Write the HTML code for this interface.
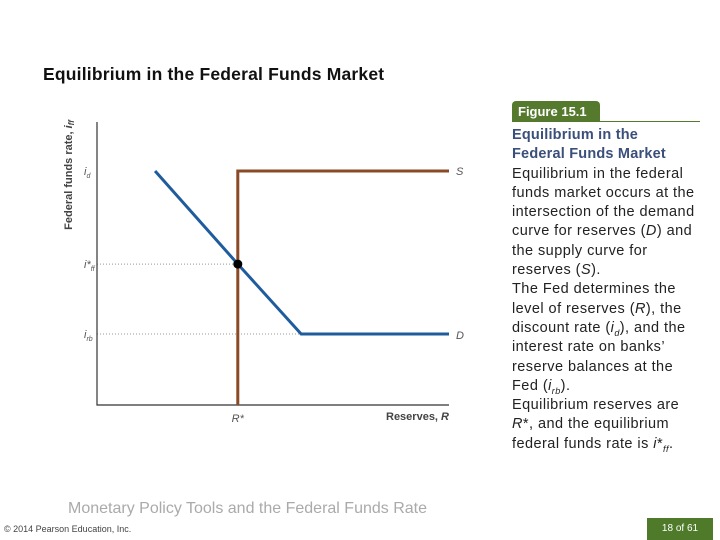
<!DOCTYPE html>
<html><head><meta charset="utf-8"><style>
body{margin:0;width:720px;height:540px;background:#fff;position:relative;overflow:hidden;font-family:"Liberation Sans",Arial,sans-serif}
.abs{position:absolute}
#side{left:512px;top:126px;font-size:14.5px;letter-spacing:0.45px;line-height:19.3px;color:#222;white-space:nowrap}
#side .h{color:#3a4f7a;font-weight:bold;letter-spacing:0.2px}
.sb{font-size:9px;position:relative;top:4px;line-height:0}
</style></head><body>
<div class="abs" style="left:43px;top:64px;font-size:17.5px;font-weight:bold;color:#111;letter-spacing:0.2px">Equilibrium in the Federal Funds Market</div>
<div class="abs" style="left:512px;top:101px;width:88px;height:20px;background:#557a2e;border-radius:4px 4px 0 0;color:#fff;font-size:13px;font-weight:bold;line-height:21px;padding-left:6px;box-sizing:border-box">Figure 15.1</div>
<div class="abs" style="left:512px;top:121px;width:188px;height:1px;background:#557a2e"></div>
<div id="side" class="abs">
<div class="h">Equilibrium in the<br>Federal Funds Market</div>
Equilibrium in the federal<br>funds market occurs at the<br>intersection of the demand<br>curve for reserves (<i>D</i>) and<br>the supply curve for<br>reserves (<i>S</i>).<br>
The Fed determines the<br>level of reserves (<i>R</i>), the<br>discount rate (<i>i<span class="sb">d</span></i>), and the<br>interest rate on banks’<br>reserve balances at the<br>Fed (<i>i<span class="sb">rb</span></i>).<br>
Equilibrium reserves are<br><i>R</i>*, and the equilibrium<br>federal funds rate is <i>i</i>*<i class="sb">ff</i>.
</div>
<svg class="abs" style="left:0;top:0" width="720" height="540">
<g id="g"></g>
</svg>
<div class="abs" style="left:68px;top:500px;font-size:16px;color:#aaa">Monetary Policy Tools and the Federal Funds Rate</div>
<div class="abs" style="left:4px;top:524px;font-size:9px;color:#444">© 2014 Pearson Education, Inc.</div>
<div class="abs" style="left:647px;top:518px;width:66px;height:22px;background:#4e7a2a;color:#fff;font-size:10px;text-align:center;line-height:22px">18 of 61</div>
<script>
const demandX=[16.5,40,58,100];
const demandY=[82.7,49.8,25.1,25.1];
const supplyX=[40,40,100];
const supplyY=[0,82.7,82.7];
const eqX=[40];const eqY=[49.8];
const yTickVals=[82.7,49.8,25.1];
const yTickLabels=["i_d","i*_ff","i_rb"];
const xTickVals=[40];const xTickLabels=["R*"];
const X0=97,X1=449,Y0=405,Y1=122;
const sx=v=>X0+(X1-X0)*v/100, sy=v=>Y0-(Y0-Y1)*v/100;
const g=document.getElementById('g');const NS='http://www.w3.org/2000/svg';
function mk(t,a){const e=document.createElementNS(NS,t);for(const k in a)e.setAttribute(k,a[k]);g.appendChild(e);return e;}
let e;
e=mk('line',{x1:X0,x2:sx(eqX[0]),y1:sy(eqY[0]),y2:sy(eqY[0]),stroke:'#999','stroke-dasharray':'1,2','stroke-width':1});


e=mk('line',{x1:X0,x2:sx(demandX[2]),y1:sy(demandY[2]),y2:sy(demandY[2]),stroke:'#999','stroke-dasharray':'1,2','stroke-width':1});


e=mk('path',{d:`M${X0},${Y1}V${Y0}H${X1}`,fill:'none',stroke:'#333','stroke-width':1.2});


e=mk('polyline',{points:supplyX.map((x,i)=>sx(x)+','+sy(supplyY[i])).join(' '),fill:'none',stroke:'#8a4a25','stroke-width':3});


e=mk('polyline',{points:demandX.map((x,i)=>sx(x)+','+sy(demandY[i])).join(' '),fill:'none',stroke:'#1f5c9e','stroke-width':3});


e=mk('circle',{cx:sx(eqX[0]),cy:sy(eqY[0]),r:4.5,fill:'#000'});


yTickVals.forEach((v,i)=>{const [b,s]=yTickLabels[i].split('_');
 const t=mk('text',{x:84,y:sy(v)+4,'font-size':11,'font-style':'italic',fill:'#555','font-family':'Liberation Sans, sans-serif'});
 t.innerHTML=b+'<tspan font-size="7" dy="3">'+s+'</tspan>';
 
 });
xTickVals.forEach((v,i)=>{const t=mk('text',{x:sx(v),y:422,'font-size':11,'font-style':'italic',fill:'#555','text-anchor':'middle','font-family':'Liberation Sans, sans-serif'});
 t.textContent=xTickLabels[i];
 
 });
e=mk('text',{x:sx(100)+7,y:sy(supplyY[2])+4,'font-size':11,'font-style':'italic',fill:'#555'});e.textContent='S';


e=mk('text',{x:sx(100)+7,y:sy(demandY[3])+5,'font-size':11,'font-style':'italic',fill:'#555'});e.textContent='D';


e=mk('text',{x:449,y:420,'font-size':11,'font-weight':'bold',fill:'#444','text-anchor':'end','font-family':'Liberation Sans, sans-serif'});e.innerHTML='Reserves, <tspan font-style="italic">R</tspan>';


e=mk('text',{x:0,y:0,'font-size':11,'font-weight':'bold',fill:'#444','text-anchor':'middle',transform:'translate(72,175) rotate(-90)','font-family':'Liberation Sans, sans-serif'});e.innerHTML='Federal funds rate, <tspan font-style="italic">i</tspan><tspan font-size="8" font-style="italic" dy="2">ff</tspan>';


</script>
</body></html>
